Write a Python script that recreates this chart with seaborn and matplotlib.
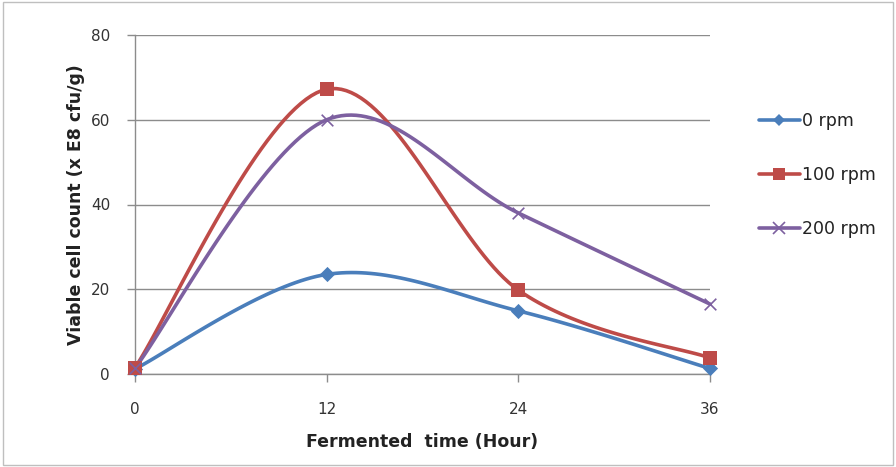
import numpy as np
import pandas as pd
import matplotlib
matplotlib.use("Agg")
import matplotlib.pyplot as plt
import seaborn as sns
from matplotlib.lines import Line2D

hours = [0, 12, 24, 36]
rpm0 = [1.2, 23.5, 14.9, 1.3]
rpm100 = [1.5, 67.2, 19.8, 3.8]
rpm200 = [1.4, 60.0, 38.0, 16.5]
series_names = ["0 rpm", "100 rpm", "200 rpm"]
colors = ["#4A7EBB", "#BE4B48", "#7D60A0"]
markers = ["D", "s", "x"]

sns.set_theme(style="white")
plt.rcParams['font.family'] = ['DejaVu Sans']

def smooth(x, y, n=40):
    x = np.asarray(x, float); y = np.asarray(y, float)
    P = np.column_stack([x, y])
    out = []
    for i in range(len(P) - 1):
        p0 = P[i - 1] if i > 0 else P[i]
        p1 = P[i]; p2 = P[i + 1]
        p3 = P[i + 2] if i + 2 < len(P) else P[i + 1]
        c1 = p1 + (p2 - p0) / 6.0
        c2 = p2 - (p3 - p1) / 6.0
        t = np.linspace(0, 1, n)[:, None]
        seg = (1 - t) ** 3 * p1 + 3 * (1 - t) ** 2 * t * c1 + 3 * (1 - t) * t ** 2 * c2 + t ** 3 * p2
        out.append(seg if i == 0 else seg[1:])
    out = np.vstack(out)
    return out[:, 0], out[:, 1]

fig = plt.figure(figsize=(8.96, 4.67), dpi=100)
ax = fig.add_axes([135 / 896, 1 - 374 / 467, (710 - 135) / 896, (374 - 35) / 467])

data = [rpm0, rpm100, rpm200]
for name, vals, c, m in zip(series_names, data, colors, markers):
    sx, sy = smooth(hours, vals)
    sm = pd.DataFrame({"x": sx, "y": sy})
    sns.lineplot(data=sm, x="x", y="y", ax=ax, color=c, lw=2.6, sort=False, zorder=3)
    pts = pd.DataFrame({"x": hours, "y": vals})
    if m == "x":
        sns.scatterplot(data=pts, x="x", y="y", ax=ax, marker="x", s=70, color=c,
                        linewidth=1.2, zorder=4)
    else:
        sns.scatterplot(data=pts, x="x", y="y", ax=ax, marker=m, s=60 if m == "D" else 100,
                        color=c, edgecolor=c, linewidth=0, zorder=4)

ax.set_xlim(0, 36)
ax.set_ylim(0, 80)
ax.set_xticks(hours)
ax.set_yticks([0, 20, 40, 60, 80])
ax.yaxis.grid(True, color="#8C8C8C", lw=1.0)
ax.xaxis.grid(False)
for s in ["top", "right"]:
    ax.spines[s].set_visible(False)
for s in ["left", "bottom"]:
    ax.spines[s].set_color("#8C8C8C")
    ax.spines[s].set_linewidth(1.0)
ax.tick_params(axis="both", which="both", direction="out", length=6, width=1.0,
               color="#8C8C8C", labelsize=11, labelcolor="#333333", pad=4, left=True, bottom=True)
ax.tick_params(axis="y", pad=12)
ax.tick_params(axis="x", pad=14)
ax.set_axisbelow(True)
for l in ax.lines:
    l.set_clip_on(False)
for coll in ax.collections:
    coll.set_clip_on(False)

ax.set_xlabel("Fermented  time (Hour)", fontsize=12.5, fontweight="bold", labelpad=12, color="#222222")
ax.set_ylabel("Viable cell count (x E8 cfu/g)", fontsize=12.5, fontweight="bold", labelpad=4, color="#222222")

handles = []
for name, c, m in zip(series_names, colors, markers):
    handles.append(Line2D([], [], color=c, lw=2.6, marker=m,
                          markersize=6 if m == "D" else (8 if m == "s" else 9),
                          markeredgewidth=1.2 if m == "x" else 0, label=name))
leg = fig.legend(handles=handles, loc="center left", bbox_to_anchor=(743 / 896, 1 - 175 / 467),
                 frameon=False, fontsize=12.5, labelspacing=2.05, handlelength=2.4,
                 handletextpad=0.1)
for t in leg.get_texts():
    t.set_color("#222222")

fig.patches.append(plt.Rectangle((0.003, 0.004), 0.994, 0.992, transform=fig.transFigure,
                                 fill=False, edgecolor="#BFBFBF", lw=1.0))
fig.savefig("out.png", dpi=100)
